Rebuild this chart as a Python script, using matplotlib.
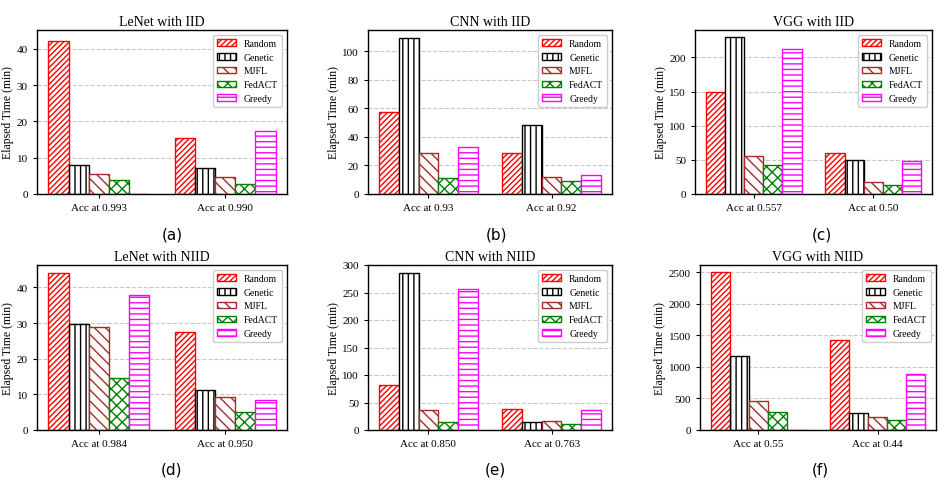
import matplotlib
matplotlib.use("Agg")
import matplotlib.pyplot as plt
import numpy as np

plt.rcParams['font.family'] = ['Liberation Serif', 'DejaVu Serif']
plt.rcParams['hatch.linewidth'] = 1.0

methods = ["Random", "Genetic", "MJFL", "FedACT", "Greedy"]
edge_colors = ["red", "black", "brown", "green", "magenta"]
hatches = ["//////", "|||", "\\\\\\", "xxx", "---"]

titles = ["LeNet with IID", "CNN with IID", "VGG with IID",
          "LeNet with NIID", "CNN with NIID", "VGG with NIID"]
captions = ["(a)", "(b)", "(c)", "(d)", "(e)", "(f)"]

groups_a = ["Acc at 0.993", "Acc at 0.990"]
groups_b = ["Acc at 0.93", "Acc at 0.92"]
groups_c = ["Acc at 0.557", "Acc at 0.50"]
groups_d = ["Acc at 0.984", "Acc at 0.950"]
groups_e = ["Acc at 0.850", "Acc at 0.763"]
groups_f = ["Acc at 0.55", "Acc at 0.44"]

# values[method] = [group1, group2]
vals_a = [[42.3, 15.3], [8.0, 7.3], [5.4, 4.6], [3.9, 2.8], [0.0, 17.3]]
vals_b = [[57.7, 29.0], [109.1, 48.1], [29.0, 12.1], [11.2, 9.1], [32.9, 13.6]]
vals_c = [[148.8, 60.5], [229.3, 49.8], [55.1, 17.1], [42.4, 12.7], [212.2, 47.8]]
vals_d = [[44.1, 27.6], [29.7, 11.3], [28.8, 9.3], [14.7, 5.0], [38.0, 8.3]]
vals_e = [[81.7, 39.0], [284.8, 15.2], [37.2, 17.1], [15.2, 11.0], [255.5, 36.6]]
vals_f = [[2500, 1430], [1170, 275], [466, 212], [291, 154], [0, 890]]

ylims = [45.2, 115, 240, 46.3, 300, 2617]
ysteps = [10, 20, 50, 10, 50, 500]

all_groups = [groups_a, groups_b, groups_c, groups_d, groups_e, groups_f]
all_vals = [vals_a, vals_b, vals_c, vals_d, vals_e, vals_f]

W, H = 945, 485
fig = plt.figure(figsize=(W / 100, H / 100), dpi=100)

# pixel boxes: left, top, right, bottom
boxes = [(37, 31, 287, 195), (368, 31, 612, 195), (695, 31, 932, 195),
         (37, 266, 287, 431), (368, 266, 612, 431), (700, 266, 936, 431)]
cap_pos = [(172, 235), (497, 235), (822, 235), (172, 470), (495, 470), (820, 470)]

bw = 0.16
for k in range(6):
    l, t, r, b = boxes[k]
    ax = fig.add_axes([l / W, 1 - b / H, (r - l) / W, (b - t) / H])
    ax.set_axisbelow(True)
    ax.yaxis.grid(True, linestyle='--', color='#c8c8c8', linewidth=0.8)
    x = np.arange(len(all_groups[k]))
    for i, m in enumerate(methods):
        ax.bar(x + (i - 2) * bw, all_vals[k][i], width=bw, color='white',
               edgecolor=edge_colors[i], hatch=hatches[i], linewidth=1.0,
               label=m)
    ax.set_xticks(x)
    ax.set_xticklabels(all_groups[k], fontsize=8)
    ax.set_ylim(0, ylims[k])
    ax.set_yticks(np.arange(0, ylims[k] + 1e-9, ysteps[k]))
    ax.tick_params(axis='y', labelsize=8, length=3)
    ax.tick_params(axis='x', length=3)
    ax.set_ylabel("Elapsed Time (min)", fontsize=8.5, labelpad=2)
    ax.set_title(titles[k], fontsize=10, pad=3.5)
    ax.legend(loc='upper right', fontsize=7, handlelength=2.0,
              framealpha=1.0, edgecolor='#cccccc')
    for sp in ax.spines.values():
        sp.set_linewidth(1.0)
    cx, cy = cap_pos[k]
    fig.text(cx / W, 1 - cy / H, captions[k], ha='center', va='center',
             fontsize=11, family='DejaVu Sans')

fig.savefig("out.png", dpi=100)
